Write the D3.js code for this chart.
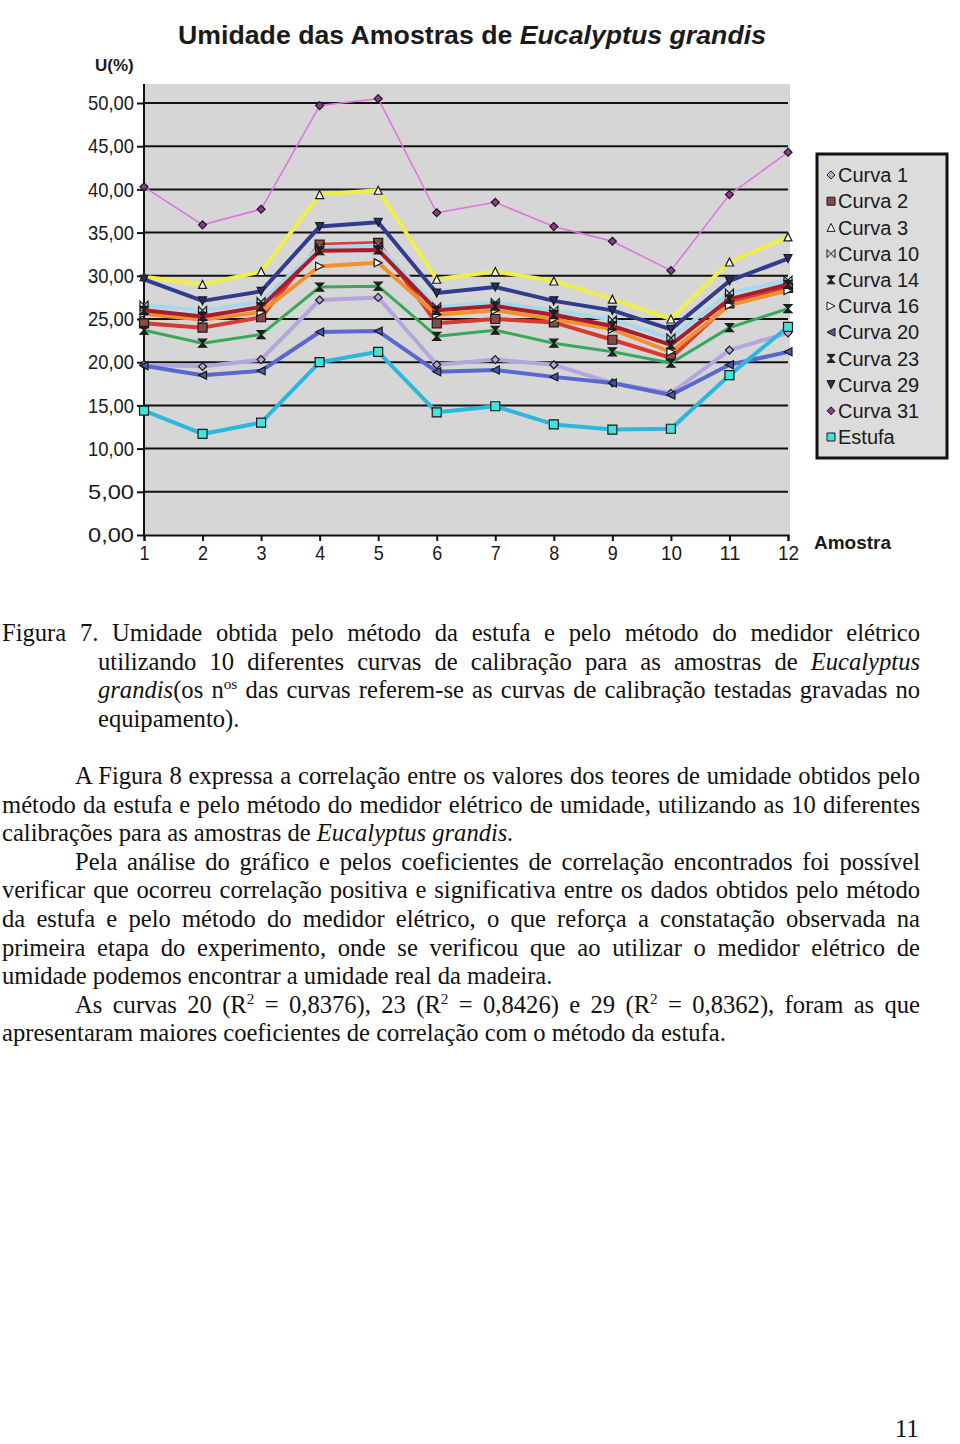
<!DOCTYPE html>
<html>
<head>
<meta charset="utf-8">
<script src="https://cdn.jsdelivr.net/npm/d3@7"></script>
<style>
  body { margin: 0; background: #fff; width: 960px; height: 1444px; position: relative; overflow: hidden; }
  .chart text { font-family: "Liberation Sans", Arial, sans-serif; fill: #1a1a1a; }
  .line-txt { position: absolute; font-family: "Liberation Serif", "Times New Roman", serif; font-size: 24.6px;
              line-height: 28px; height: 28px; color: #111; white-space: nowrap; }
  .just { text-align: justify; text-align-last: justify; white-space: normal; }
  sup { font-size: 0.62em; vertical-align: 0; position: relative; top: -0.6em; line-height: 0; }
</style>
</head>
<body>
<script>
// categories (amostra) and series (U %)
var amostras = [1, 2, 3, 4, 5, 6, 7, 8, 9, 10, 11, 12];
var yTicks = [0, 5, 10, 15, 20, 25, 30, 35, 40, 45, 50];

var curva1  = [19.7, 19.5, 20.3, 27.2, 27.5, 19.7, 20.3, 19.7, 17.6, 16.4, 21.4, 23.4];
var curva2  = [24.5, 24.0, 25.2, 33.6, 33.8, 24.5, 25.0, 24.6, 22.6, 20.5, 26.8, 28.6];
var curva3  = [29.9, 29.0, 30.5, 39.4, 39.9, 29.6, 30.5, 29.4, 27.3, 25.0, 31.6, 34.5];
var curva10 = [26.6, 26.0, 27.0, 33.3, 33.5, 26.4, 26.9, 26.0, 24.9, 22.8, 28.0, 29.5];
var curva14 = [23.7, 22.2, 23.2, 28.7, 28.8, 23.0, 23.7, 22.2, 21.2, 19.9, 24.0, 26.2];
var curva16 = [25.6, 24.9, 25.8, 31.1, 31.5, 25.5, 26.0, 25.0, 23.8, 21.2, 26.6, 28.3];
var curva20 = [19.6, 18.5, 19.0, 23.5, 23.6, 18.9, 19.1, 18.3, 17.6, 16.2, 19.7, 21.2];
var curva23 = [26.0, 25.3, 26.4, 32.9, 33.0, 26.0, 26.5, 25.5, 24.2, 22.0, 27.3, 29.0];
var curva29 = [29.6, 27.1, 28.2, 35.7, 36.2, 28.0, 28.7, 27.1, 26.0, 23.8, 29.4, 32.0];
var curva31 = [40.3, 35.9, 37.7, 49.7, 50.5, 37.3, 38.5, 35.7, 34.0, 30.6, 39.4, 44.3];
var estufa  = [14.4, 11.7, 13.0, 20.0, 21.2, 14.2, 14.9, 12.8, 12.2, 12.3, 18.5, 24.1];

var seriesNames = ["Curva 1", "Curva 2", "Curva 3", "Curva 10", "Curva 14", "Curva 16",
                   "Curva 20", "Curva 23", "Curva 29", "Curva 31", "Estufa"];

var series = [
  {name: seriesNames[0],  values: curva1,  color: "#b4a6dc", w: 4,   mark: "diamond",  mfill: "#b4a6dc"},
  {name: seriesNames[1],  values: curva2,  color: "#d83a30", w: 4,   mark: "square",   mfill: "#8a4848"},
  {name: seriesNames[2],  values: curva3,  color: "#f0ee4c", w: 4,   mark: "triUp",    mfill: "#f4f4f4"},
  {name: seriesNames[3],  values: curva10, color: "#a6d8ec", w: 4,   mark: "bowtie",   mfill: "none"},
  {name: seriesNames[4],  values: curva14, color: "#3aa85a", w: 3,   mark: "hourglass",mfill: "#222"},
  {name: seriesNames[5],  values: curva16, color: "#f29030", w: 4,   mark: "triRight", mfill: "#f4f4f4"},
  {name: seriesNames[6],  values: curva20, color: "#5868d0", w: 4,   mark: "triLeft",  mfill: "#4858b0"},
  {name: seriesNames[7],  values: curva23, color: "#a81c2c", w: 4,   mark: "hourglass",mfill: "#222"},
  {name: seriesNames[8],  values: curva29, color: "#303c90", w: 4,   mark: "triDown",  mfill: "#262e70"},
  {name: seriesNames[9],  values: curva31, color: "#e070e0", w: 1.5, mark: "diamond",  mfill: "#8a3c8a"},
  {name: seriesNames[10], values: estufa,  color: "#2cb8dc", w: 4,   mark: "square",   mfill: "#40e4dc"}
];

function markPath(type, s) {
  switch (type) {
    case "diamond": return "M0," + (-s) + "L" + s + ",0L0," + s + "L" + (-s) + ",0Z";
    case "square": return "M" + (-s) + "," + (-s) + "H" + s + "V" + s + "H" + (-s) + "Z";
    case "triUp": return "M0," + (-s) + "L" + s + "," + s + "H" + (-s) + "Z";
    case "triDown": return "M0," + s + "L" + s + "," + (-s) + "H" + (-s) + "Z";
    case "triRight": return "M" + s + ",0L" + (-s) + "," + (-s) + "V" + s + "Z";
    case "triLeft": return "M" + (-s) + ",0L" + s + "," + (-s) + "V" + s + "Z";
    case "bowtie": return "M" + (-s) + "," + (-s) + "V" + s + "L" + s + "," + (-s) + "V" + s + "Z";
    case "hourglass": return "M" + (-s) + "," + (-s) + "H" + s + "L" + (-s) + "," + s + "H" + s + "Z";
  }
}

var svg = d3.select("body").append("svg")
    .attr("class", "chart")
    .attr("width", 960)
    .attr("height", 600)
    .style("position", "absolute").style("left", "0px").style("top", "0px");

var x = d3.scalePoint().domain(amostras).range([144, 788]);
var y = d3.scaleLinear().domain([0, 50]).range([535, 103]);

// plot background
svg.append("rect")
    .attr("x", x(1)).attr("y", 84)
    .attr("width", x(12) - x(1) + 2).attr("height", y(0) - 84)
    .attr("fill", "#d6d6d6");

// gridlines
svg.append("g").selectAll("line")
    .data(yTicks.filter(function(d) { return d > 0; }))
  .enter().append("line")
    .attr("x1", x(1)).attr("x2", x(12))
    .attr("y1", function(d) { return y(d); })
    .attr("y2", function(d) { return y(d); })
    .attr("stroke", "#111").attr("stroke-width", 2);

// y axis
var yAxis = svg.append("g")
    .attr("transform", "translate(" + x(1) + ",0)")
    .call(d3.axisLeft(y).tickValues(yTicks).tickSize(7).tickPadding(3)
      .tickFormat(function(d) { return d3.format(".2f")(d).replace(".", ","); }));
yAxis.select(".domain").remove();
yAxis.append("line").attr("x1", 0).attr("x2", 0).attr("y1", 84).attr("y2", y(0))
    .attr("stroke", "#111").attr("stroke-width", 2);
yAxis.selectAll(".tick line").attr("stroke", "#111").attr("stroke-width", 2);
yAxis.selectAll(".tick text")
    .style("font-size", "21px").style("font-family", "'Liberation Sans', Arial, sans-serif")
    .attr("fill", "#1a1a1a")
    .attr("textLength", 46).attr("lengthAdjust", "spacingAndGlyphs");

// x axis
var xAxis = svg.append("g")
    .attr("transform", "translate(0," + y(0) + ")")
    .call(d3.axisBottom(x).tickSize(6).tickPadding(4));
xAxis.select(".domain").attr("stroke", "#111").attr("stroke-width", 2);
xAxis.selectAll(".tick line").attr("stroke", "#111").attr("stroke-width", 2);
xAxis.selectAll(".tick text")
    .style("font-size", "21px").style("font-family", "'Liberation Sans', Arial, sans-serif")
    .attr("fill", "#1a1a1a")
    .attr("textLength", function(d) { return d >= 10 ? 21 : 10; })
    .attr("lengthAdjust", "spacingAndGlyphs");

// lines
var line = d3.line()
    .x(function(d, i) { return x(amostras[i]); })
    .y(function(d) { return y(d); });

var sg = svg.append("g").selectAll("g")
    .data(series)
  .enter().append("g");

sg.append("path")
    .attr("d", function(d) { return line(d.values); })
    .attr("fill", "none")
    .attr("stroke", function(d) { return d.color; })
    .attr("stroke-width", function(d) { return d.w; })
    .attr("stroke-linejoin", "round");

sg.each(function(s) {
  d3.select(this).selectAll("path.m")
      .data(s.values)
    .enter().append("path")
      .attr("class", "m")
      .attr("transform", function(d, i) { return "translate(" + x(amostras[i]) + "," + y(d) + ")"; })
      .attr("d", markPath(s.mark, s.mark == "square" ? 4.5 : 4))
      .attr("fill", s.mfill)
      .attr("stroke", "#1a1a1a")
      .attr("stroke-width", 1.2);
});

// titles
var title = svg.append("text")
    .attr("x", 472).attr("y", 44)
    .attr("text-anchor", "middle")
    .attr("textLength", 588).attr("lengthAdjust", "spacingAndGlyphs")
    .style("font-size", "25px").style("font-weight", "bold")
    .attr("fill", "#222");
title.append("tspan").text("Umidade das Amostras de ");
title.append("tspan").style("font-style", "italic").text("Eucalyptus grandis");

svg.append("text")
    .attr("x", 95).attr("y", 71)
    .style("font-size", "17px").style("font-weight", "bold")
    .attr("fill", "#333")
    .text("U(%)");

svg.append("text")
    .attr("x", 814).attr("y", 549)
    .style("font-size", "19px").style("font-weight", "bold")
    .attr("fill", "#333")
    .text("Amostra");

// legend
var legend = svg.append("g");
legend.append("rect")
    .attr("x", 817).attr("y", 154).attr("width", 130).attr("height", 304)
    .attr("fill", "#dcdcdc").attr("stroke", "#111").attr("stroke-width", 3);

var li = legend.selectAll("g.li")
    .data(series)
  .enter().append("g")
    .attr("class", "li")
    .attr("transform", function(d, i) { return "translate(831," + (175 + i * 26.2) + ")"; });

li.append("path")
    .attr("d", function(d) { return markPath(d.mark, 4); })
    .attr("fill", function(d) { return d.mfill == "none" ? "none" : d.mfill; })
    .attr("stroke", "#1a1a1a").attr("stroke-width", 1);

li.append("text")
    .attr("x", 7).attr("dy", "0.36em")
    .style("font-size", "20px")
    .attr("fill", "#1a1a1a")
    .text(function(d) { return d.name; });

// caption and body text
var capLines = [
  "Figura 7. Umidade obtida pelo método da estufa e pelo método do medidor elétrico",
  "utilizando 10 diferentes curvas de calibração para as amostras de <i>Eucalyptus</i>",
  "<i>grandis</i>(os n<sup>os</sup> das curvas referem-se as curvas de calibração testadas gravadas no",
  "equipamento)."
];
var bodyLines = [
  "A Figura 8 expressa a correlação entre os valores dos teores de umidade obtidos pelo",
  "método da estufa e pelo método do medidor elétrico de umidade, utilizando as 10 diferentes",
  "calibrações para as amostras de <i>Eucalyptus grandis.</i>",
  "Pela análise do gráfico e pelos coeficientes de correlação encontrados foi possível",
  "verificar que ocorreu correlação positiva e significativa entre os dados obtidos pelo método",
  "da estufa e pelo método do medidor elétrico, o que reforça a constatação observada na",
  "primeira etapa do experimento, onde se verificou que ao utilizar o medidor elétrico de",
  "umidade podemos encontrar a umidade real da madeira.",
  "As curvas 20 (R<sup>2</sup> = 0,8376), 23 (R<sup>2</sup> = 0,8426) e 29 (R<sup>2</sup> = 0,8362), foram as que",
  "apresentaram maiores coeficientes de correlação com o método da estufa."
];
var capIndent = [0, 1, 1, 1];
var capJust = [1, 1, 1, 0];
var bodyIndent = [1, 0, 0, 1, 0, 0, 0, 0, 1, 0];
var bodyJust = [1, 1, 0, 1, 1, 1, 1, 0, 1, 0];

var body = d3.select("body");
body.selectAll("div.cap")
    .data(capLines)
  .enter().append("div")
    .attr("class", function(d, i) { return "line-txt cap" + (capJust[i] ? " just" : ""); })
    .style("left", function(d, i) { return (capIndent[i] ? 98 : 2) + "px"; })
    .style("width", function(d, i) { return (capIndent[i] ? 822 : 918) + "px"; })
    .style("top", function(d, i) { return (619 + i * 28.7) + "px"; })
    .html(function(d) { return d; });

body.selectAll("div.par")
    .data(bodyLines)
  .enter().append("div")
    .attr("class", function(d, i) { return "line-txt par" + (bodyJust[i] ? " just" : ""); })
    .style("left", function(d, i) { return (bodyIndent[i] ? 75 : 2) + "px"; })
    .style("width", function(d, i) { return (bodyIndent[i] ? 845 : 918) + "px"; })
    .style("top", function(d, i) { return (762 + i * 28.6) + "px"; })
    .html(function(d) { return d; });

body.append("div")
    .attr("class", "line-txt")
    .style("left", "895px").style("top", "1419px")
    .style("line-height", "20px").style("height", "20px")
    .text("11");
</script>
</body>
</html>
